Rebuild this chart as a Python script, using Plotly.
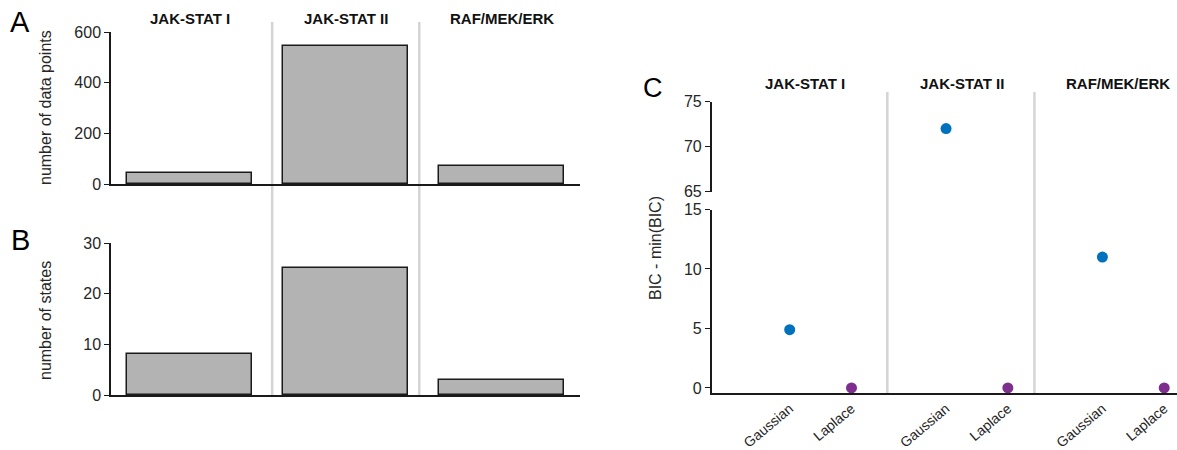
import plotly.graph_objects as go

# ---------------- data ----------------
pathways = ["JAK-STAT I", "JAK-STAT II", "RAF/MEK/ERK"]
n_data_points = [45, 543, 71]
n_states = [8, 25, 3]
models = ["Gaussian", "Laplace"]
bic_gaussian = [4.9, 72.0, 11.0]
bic_laplace = [0.0, 0.0, 0.0]
ticks_a = [0, 200, 400, 600]
ticks_b = [0, 10, 20, 30]
ticks_c_low = [0, 5, 10, 15]
ticks_c_high = [65, 70, 75]

# ---------------- layout helpers ----------------
W, H = 1177, 450
def fx(p):
    return p / W
def fy(p):
    return 1 - p / H

FONT = "Liberation Sans, Arial, Helvetica, sans-serif"
AX = "#1a1a1a"
TXT = "#262626"
SEP = "#d4d4d4"
BAR_FILL = "#b3b3b3"
COLORS = {"Gaussian": "#0072BD", "Laplace": "#7E2F8E"}
FACET_GAP = 2.53
BREAK = 40

fig = go.Figure()
pos = list(range(len(pathways)))
bar_style = dict(color=BAR_FILL, line=dict(color=AX, width=1.5))
fig.add_trace(go.Bar(x=pos, y=n_data_points, width=0.8, marker=bar_style,
                     xaxis="x", yaxis="y", showlegend=False))
fig.add_trace(go.Bar(x=pos, y=n_states, width=0.8, marker=bar_style,
                     xaxis="x2", yaxis="y2", showlegend=False))

c_ticks_x, c_ticks_t = [], []
for mi, (model, vals) in enumerate(zip(models, [bic_gaussian, bic_laplace])):
    xs = [f * FACET_GAP + mi for f in range(len(pathways))]
    c_ticks_x += xs
    c_ticks_t += [model] * len(xs)
    low = [(x, v) for x, v in zip(xs, vals) if v < BREAK]
    high = [(x, v) for x, v in zip(xs, vals) if v >= BREAK]
    mk = dict(size=11, color=COLORS[model])
    if low:
        fig.add_trace(go.Scatter(x=[a for a, _ in low], y=[b for _, b in low],
                                 mode="markers", marker=mk, cliponaxis=False,
                                 xaxis="x3", yaxis="y3", showlegend=False))
    if high:
        fig.add_trace(go.Scatter(x=[a for a, _ in high], y=[b for _, b in high],
                                 mode="markers", marker=mk, cliponaxis=False,
                                 xaxis="x3", yaxis="y4", showlegend=False))

common_x = dict(showline=True, linecolor=AX, linewidth=1.5, showgrid=False,
                zeroline=False, ticks="", fixedrange=True, automargin=False)
common_y = dict(showline=True, linecolor=AX, linewidth=1.5, showgrid=False,
                zeroline=False, ticks="outside", ticklen=5, tickwidth=1.2,
                tickcolor=AX, automargin=False,
                tickfont=dict(size=16, color=TXT, family=FONT))

ab_range = [-0.503, 2.5]
fig.update_layout(
    width=W, height=H,
    margin=dict(l=0, r=0, t=0, b=0, autoexpand=False),
    paper_bgcolor="white", plot_bgcolor="rgba(0,0,0,0)",
    font=dict(family=FONT, color=TXT),
    bargap=0,
    xaxis=dict(common_x, domain=[fx(111), fx(580)], range=ab_range,
               showticklabels=False, anchor="y"),
    yaxis=dict(common_y, domain=[fy(184.3), fy(32)], range=[0, 600],
               tickvals=ticks_a, anchor="x"),
    xaxis2=dict(common_x, domain=[fx(111), fx(580)], range=ab_range,
                showticklabels=False, anchor="y2"),
    yaxis2=dict(common_y, domain=[fy(395), fy(243)], range=[0, 30],
                tickvals=ticks_b, anchor="x2"),
    xaxis3=dict(common_x, domain=[fx(711.7), 1.0], range=[-1.262, 6.267],
                tickvals=c_ticks_x, ticktext=c_ticks_t, tickangle=-40,
                tickfont=dict(size=14, color=TXT, family=FONT), anchor="y3"),
    yaxis3=dict(common_y, domain=[fy(393.3), fy(209.5)], range=[-0.45, 15],
                tickvals=ticks_c_low, anchor="x3"),
    yaxis4=dict(common_y, domain=[fy(191.7), fy(101.5)], range=[65, 75],
                tickvals=ticks_c_high, anchor="x3"),
)

shapes = []
for s in [0.529, 1.471]:
    shapes.append(dict(type="line", xref="x", yref="paper", x0=s, x1=s,
                       y0=fy(395), y1=fy(22), line=dict(color=SEP, width=2.5),
                       layer="below"))
for s in [1.58, 3.96]:
    shapes.append(dict(type="line", xref="x3", yref="paper", x0=s, x1=s,
                       y0=fy(395), y1=fy(92), line=dict(color=SEP, width=2.5),
                       layer="below"))
fig.update_layout(shapes=shapes)

ann = []
for i, name in enumerate(pathways):
    ann.append(dict(text="<b>%s</b>" % name, x=pos[i], xref="x", y=fy(18), yref="paper",
                    showarrow=False, font=dict(size=15, color="#111", family=FONT),
                    xanchor="center", yanchor="middle"))
    ann.append(dict(text="<b>%s</b>" % name, x=i * FACET_GAP + 0.25, xref="x3",
                    y=fy(84), yref="paper", showarrow=False,
                    font=dict(size=15, color="#111", family=FONT),
                    xanchor="center", yanchor="middle"))
for letter, x, y, sz in [("A", 20, 22, 29), ("B", 20, 240, 29), ("C", 653, 88, 27)]:
    ann.append(dict(text=letter, x=fx(x), y=fy(y), xref="paper", yref="paper",
                    showarrow=False, font=dict(size=sz, color="#000", family=FONT),
                    xanchor="center", yanchor="middle"))
for title, x, y in [("number of data points", 45, 108), ("number of states", 45, 321),
                    ("BIC - min(BIC)", 655, 248)]:
    ann.append(dict(text=title, x=fx(x), y=fy(y), xref="paper", yref="paper",
                    showarrow=False, textangle=-90,
                    font=dict(size=16, color=TXT, family=FONT),
                    xanchor="center", yanchor="middle"))
fig.update_layout(annotations=ann)

fig.write_html("out.html")
